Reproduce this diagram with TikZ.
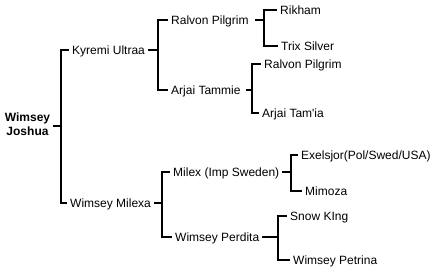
\documentclass[tikz,border=0pt]{standalone}
\usepackage{fontspec}
\setmainfont{Liberation Sans}
\begin{document}
\begin{tikzpicture}[x=1pt,y=-1pt,
  nm/.style={anchor=west,inner sep=0pt,font=\fontsize{12}{14}\selectfont,text height=8.6pt,text depth=0pt},
  conn/.style={line width=1.5pt,black}]
\useasboundingbox (0,0) rectangle (437,271);
\node[inner sep=0pt,align=center,font=\fontsize{12}{14}\selectfont\bfseries] (root) at (27.5,124) {Wimsey\\Joshua};
\node[nm] (kyr) at (72,50) {Kyremi Ultraa};
\node[nm] (mil) at (70,203) {Wimsey Milexa};
\node[nm] (ral) at (171,20) {Ralvon Pilgrim};
\node[nm] (arj) at (171,90) {Arjai Tammie};
\node[nm] (mlx) at (173,172) {Milex (Imp Sweden)};
\node[nm] (per) at (175,237) {Wimsey Perdita};
\node[nm] (rik) at (280,10) {Rikham};
\node[nm] (trix) at (281,46) {Trix Silver};
\node[nm] (ral2) at (264,64) {Ralvon Pilgrim};
\node[nm] (arjt) at (262,113) {Arjai Tam\textquotesingle ia};
\node[nm] (exe) at (301,155) {Exelsjor(Pol/Swed/USA)};
\node[nm] (mim) at (305,191) {Mimoza};
\node[nm] (snow) at (290,216) {Snow KIng};
\node[nm] (pet) at (293,260) {Wimsey Petrina};
% bracket x positions
\coordinate (bx0) at (61,0);
\coordinate (bx1) at (158,0);
\coordinate (bx2) at (162,0);
\coordinate (bx3) at (264,0);
\coordinate (bx4) at (252,0);
\coordinate (bx5) at (291,0);
\coordinate (bx6) at (278,0);
% root
\draw[conn] ([xshift=3pt]root.east |- 0,126) -- (bx0 |- 0,126);
\draw[conn] ([xshift=-3pt]kyr.west) -| (bx0 |- mil) -- ([xshift=-3pt]mil.west);
% kyremi
\draw[conn] ([xshift=3pt]kyr.east) -- (bx1 |- kyr);
\draw[conn] ([xshift=-3pt]ral.west) -| (bx1 |- arj) -- ([xshift=-3pt]arj.west);
% milexa
\draw[conn] ([xshift=3pt]mil.east) -- (bx2 |- mil);
\draw[conn] ([xshift=-3pt]mlx.west) -| (bx2 |- per) -- ([xshift=-3pt]per.west);
% ralvon
\draw[conn] ([xshift=6pt]ral.east) -- (bx3 |- ral);
\draw[conn] ([xshift=-3pt]rik.west) -| (bx3 |- trix) -- ([xshift=-3pt]trix.west);
% arjai
\draw[conn] ([xshift=5pt]arj.east) -- (bx4 |- arj);
\draw[conn] ([xshift=-3pt]ral2.west) -| (bx4 |- arjt) -- ([xshift=-3pt]arjt.west);
% milex
\draw[conn] ([xshift=3pt]mlx.east) -- (bx5 |- mlx);
\draw[conn] ([xshift=-3pt]exe.west) -| (bx5 |- mim) -- ([xshift=-3pt]mim.west);
% perdita
\draw[conn] ([xshift=3pt]per.east) -- (bx6 |- per);
\draw[conn] ([xshift=-3pt]snow.west) -| (bx6 |- pet) -- ([xshift=-3pt]pet.west);
\end{tikzpicture}
\end{document}
